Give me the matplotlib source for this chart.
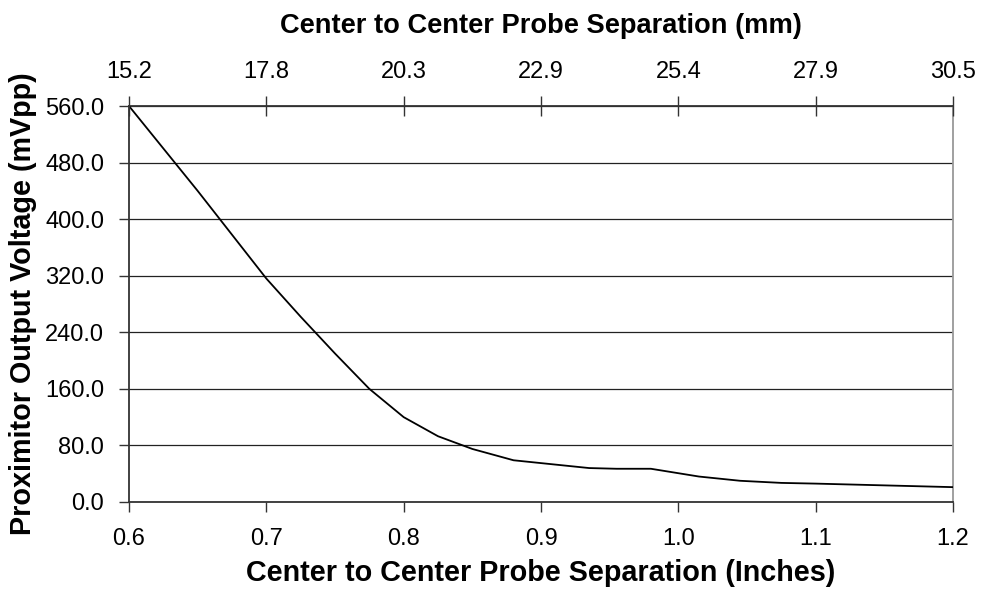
import numpy as np
import matplotlib.pyplot as plt

plt.rcParams['font.family'] = ['Liberation Sans', 'DejaVu Sans']

# separation (inches) vs proximitor output (mVpp)
sep_in = [0.600, 0.625, 0.650, 0.675, 0.700, 0.725, 0.750, 0.775, 0.800,
          0.825, 0.850, 0.880, 0.910, 0.935, 0.955, 0.980, 1.015, 1.045,
          1.075, 1.100, 1.200]
volts = [560, 500, 440, 378, 316, 262, 210, 160, 120,
         93, 75, 59, 53, 48, 47, 47, 36, 30,
         27, 26, 21]

x_ticks = [0.6, 0.7, 0.8, 0.9, 1.0, 1.1, 1.2]
mm_labels = ["15.2", "17.8", "20.3", "22.9", "25.4", "27.9", "30.5"]
y_ticks = [0, 80, 160, 240, 320, 400, 480, 560]

fig = plt.figure(figsize=(9.81, 5.91), dpi=100)
ax = fig.add_axes([0.1315, 0.1506, 0.84, 0.67])

ax.plot(sep_in, volts, color='black', lw=1.3, zorder=3)

ax.set_xlim(0.6, 1.2)
ax.set_ylim(0, 560)
ax.set_xticks(x_ticks)
ax.set_xticklabels([f"{t:.1f}" for t in x_ticks])
ax.set_yticks(y_ticks)
ax.set_yticklabels([f"{t:.1f}" for t in y_ticks])
ax.yaxis.grid(True, color='#222222', lw=0.9)
ax.set_axisbelow(True)

for s in ['left', 'bottom', 'top']:
    ax.spines[s].set_color('#333333')
    ax.spines[s].set_linewidth(1.3)
ax.spines['right'].set_color('#999999')
ax.spines['right'].set_linewidth(1.3)

ax.tick_params(axis='both', direction='out', length=7, width=1, color='#333333',
               labelsize=17)
ax.tick_params(axis='x', pad=12)
ax.tick_params(axis='y', pad=11)

ax.set_xlabel("Center to Center Probe Separation (Inches)", fontsize=20.7,
              fontweight='bold', labelpad=6)
ax.set_ylabel("Proximitor Output Voltage (mVpp)", fontsize=20.7,
              fontweight='bold', labelpad=6)

top = ax.twiny()
top.set_xlim(ax.get_xlim())
top.set_xticks(x_ticks)
top.set_xticklabels(mm_labels)
top.tick_params(axis='x', direction='inout', length=15, width=1, color='#333333',
                labelsize=17, pad=9)
top.set_xlabel("Center to Center Probe Separation (mm)", fontsize=19.6,
               fontweight='bold', labelpad=20)
for s in top.spines.values():
    s.set_visible(False)

fig.savefig("out.png", dpi=100)
